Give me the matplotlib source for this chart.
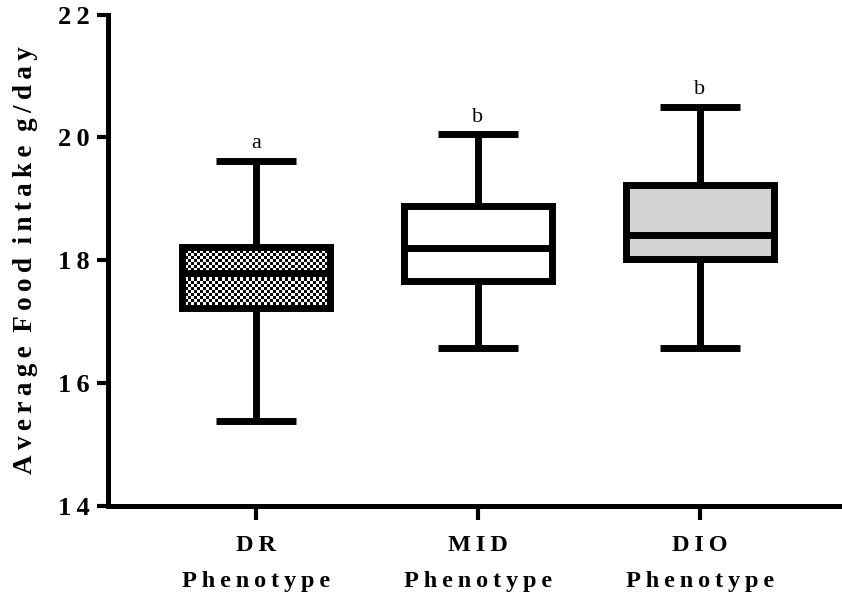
import numpy as np
import matplotlib
matplotlib.use('Agg')
import matplotlib.pyplot as plt

categories = ['DR', 'MID', 'DIO']
group_label = 'Phenotype'
whislo = [15.38, 16.57, 16.57]
q1 = [17.22, 17.66, 18.02]
med = [17.80, 18.20, 18.41]
q3 = [18.21, 18.88, 19.22]
whishi = [19.62, 20.05, 20.50]
sig_letters = ['a', 'b', 'b']
yticks = [14, 16, 18, 20, 22]
ylabel = 'Average Food intake g/day'

SP = '\u2009'


def spaced(s):
    return SP.join(list(s))


plt.rcParams['font.family'] = ['Liberation Serif', 'DejaVu Serif']

fig = plt.figure(figsize=(8.42, 5.99), dpi=100)
ax = fig.add_axes([107.5 / 842, (599 - 506) / 599, (842 - 107.5) / 842, (506 - 14.5) / 599])

positions = np.arange(1, len(categories) + 1)
stats = []
for i in range(len(categories)):
    stats.append(dict(whislo=whislo[i], q1=q1[i], med=med[i], q3=q3[i],
                      whishi=whishi[i], fliers=[], label=categories[i]))

lw = 5
bp = ax.bxp(stats, positions=positions, widths=0.667, capwidths=0.36,
            patch_artist=True, showfliers=False,
            boxprops=dict(linewidth=lw, edgecolor='black'),
            whiskerprops=dict(linewidth=lw, color='black', solid_capstyle='butt'),
            capprops=dict(linewidth=lw, color='black', solid_capstyle='butt'),
            medianprops=dict(linewidth=lw, color='black', solid_capstyle='butt'))

face = ['white', 'white', '#d3d3d3']
for b, f in zip(bp['boxes'], face):
    b.set_facecolor(f)
    b.set_zorder(2)
for k in ('medians', 'whiskers', 'caps'):
    for l in bp[k]:
        l.set_zorder(3)

# checkered fill for the DR box
box0 = bp['boxes'][0]
ext = box0.get_path().get_extents()
nx = int(round((ext.x1 - ext.x0) * 74))
ny = int(round((ext.y1 - ext.y0) * 20.5))
checker = (np.indices((ny, nx)).sum(axis=0) % 2).astype(float)
im = ax.imshow(checker, cmap='gray', vmin=0, vmax=1, interpolation='nearest',
               extent=[ext.x0, ext.x1, ext.y0, ext.y1], aspect='auto', zorder=2.5)
im.set_clip_path(box0)
box0.set_zorder(2.6)
box0.set_facecolor('none')

for p, hi, s in zip(positions, whishi, sig_letters):
    ax.text(p, hi + 0.12, s, ha='center', va='bottom', fontsize=16)

ax.set_xlim(0.331, 3.64)
ax.set_ylim(14, 22)
ax.set_yticks(yticks)
ax.set_yticklabels([spaced(str(t)) for t in yticks], fontsize=19, fontweight='bold')
ax.set_xticks(positions)
ax.set_xticklabels([spaced(c) + '\n' + spaced(group_label) for c in categories],
                   fontsize=17.5, fontweight='bold', linespacing=1.9)
ax.tick_params(axis='y', length=8, width=3, pad=5)
ax.tick_params(axis='x', length=10, width=3, pad=11)
ax.set_ylabel('  '.join(spaced(w) for w in ylabel.split(' ')), fontsize=19.5,
              fontweight='bold', labelpad=14)
for s in ('top', 'right'):
    ax.spines[s].set_visible(False)
for s in ('left', 'bottom'):
    ax.spines[s].set_linewidth(3.6)

fig.savefig('out.png', dpi=100)
